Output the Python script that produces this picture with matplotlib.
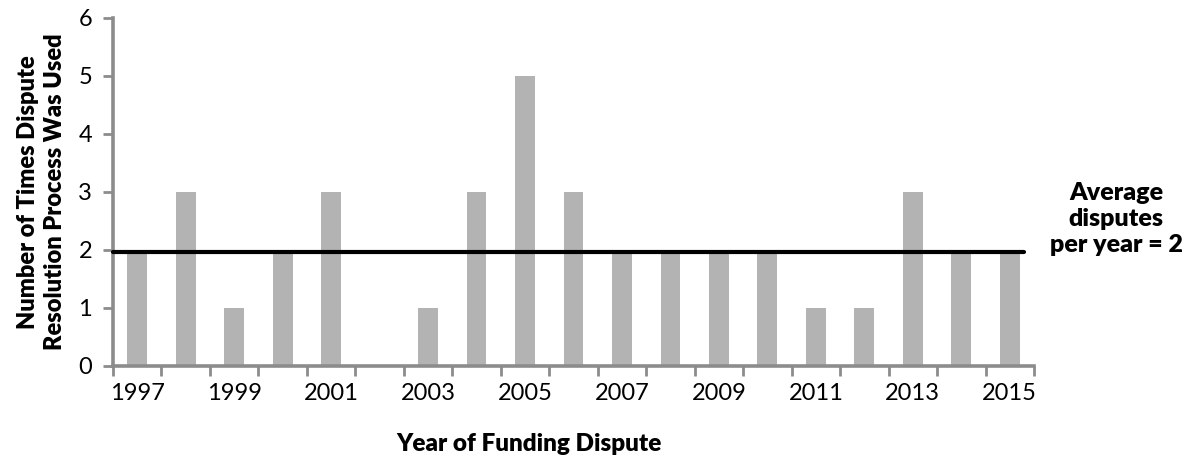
import matplotlib
matplotlib.use("Agg")
import matplotlib.pyplot as plt
import numpy as np

years = list(range(1997, 2016))
disputes = [2, 3, 1, 2, 3, 0, 1, 3, 5, 3, 2, 2, 2, 2, 1, 1, 3, 2, 2]
average = 2
tick_labels = [str(y) for y in years[::2]]

plt.rcParams['font.family'] = ['Lato', 'DejaVu Sans']

fig = plt.figure(figsize=(11.92, 4.59), dpi=100)
ax = fig.add_axes([113/1192, 1-366/459, (1034-113)/1192, (366-18)/459])

x = np.arange(len(years))
ax.bar(x, disputes, width=0.41, color='#b3b3b3', zorder=2)
ax.plot([-0.5, len(years) - 0.7], [average - 0.03, average - 0.03], color='black', lw=3,
        solid_capstyle='round', zorder=3, clip_on=False)

ax.set_xlim(-0.5, len(years) - 0.5)
ax.set_ylim(0, 6)

spine_c = '#8c8c8c'
for s in ['top', 'right']:
    ax.spines[s].set_visible(False)
for s in ['left', 'bottom']:
    ax.spines[s].set_color(spine_c)
    ax.spines[s].set_linewidth(2.6)

ax.set_xticks(np.arange(-0.5, len(years), 1.0))
ax.set_xticklabels([])
ax.set_xticks(x[::2], minor=True)
ax.set_xticklabels(tick_labels, minor=True, fontsize=17)
ax.tick_params(axis='x', which='major', direction='out', length=7, width=2, color=spine_c)
ax.tick_params(axis='x', which='minor', length=0, pad=12)

ax.set_yticks(range(0, 7))
ax.tick_params(axis='y', direction='out', length=7, width=2, color=spine_c, labelsize=17, pad=8)

ax.set_ylabel('Number of Times Dispute\nResolution Process Was Used', fontsize=17,
              fontweight='heavy', linespacing=1.25, labelpad=9)

fig.text(529/1192, 1-444/459, 'Year of Funding Dispute', fontsize=17.5, fontweight='heavy',
         ha='center', va='center')
fig.text(1116/1192, 1-219/459, 'Average\ndisputes\nper year = 2', fontsize=18,
         fontweight='heavy', ha='center', va='center', linespacing=1.25)

fig.savefig('out.png', dpi=100)
